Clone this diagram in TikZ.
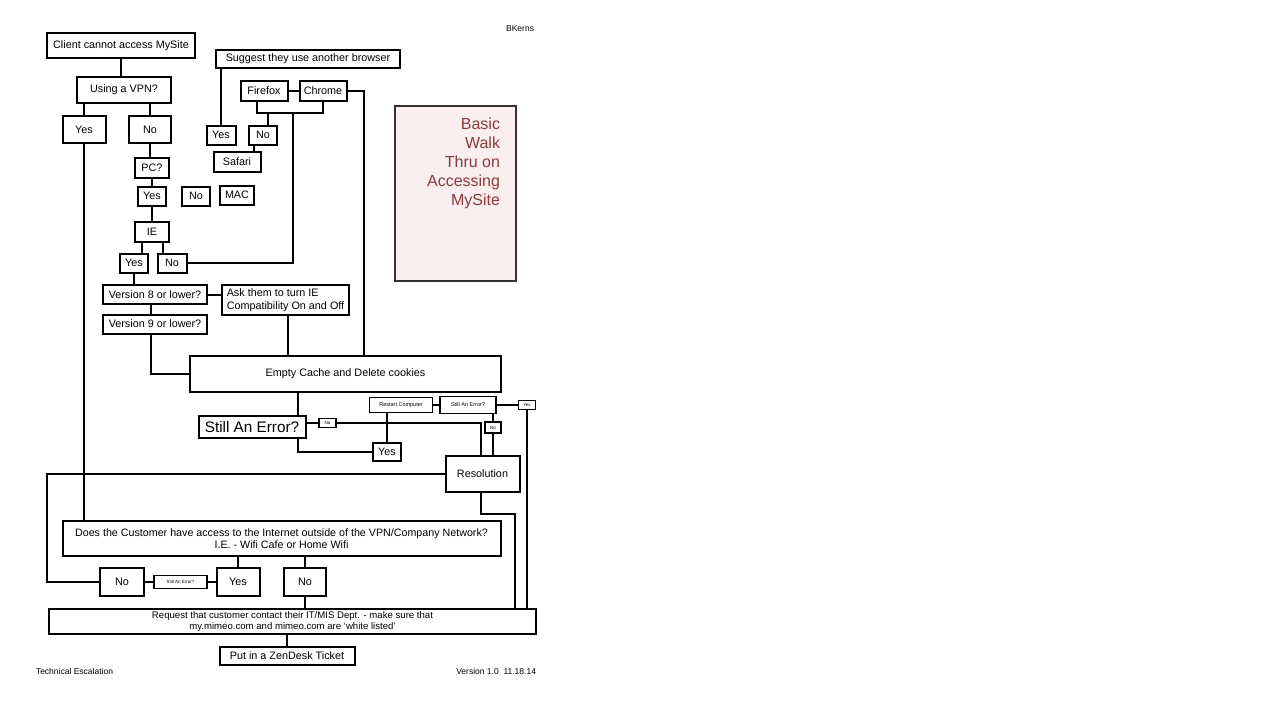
\documentclass[tikz,border=0pt]{standalone}
\usepackage{fontspec}
\setmainfont{Liberation Sans}
\usepackage{xcolor}
\usepackage{tikz}
\usetikzlibrary{shapes,positioning}

\definecolor{titlered}{HTML}{8B3A3A}
\definecolor{titlefill}{HTML}{FBEEEE}

\begin{document}
\begin{tikzpicture}[x=1pt, y=-1pt, line width=2pt,
  box/.style={draw, rectangle, inner sep=0pt, font=\fontsize{10.8}{12.5}\selectfont},
  smallbox/.style={draw, rectangle, inner sep=0pt, line width=1.5pt, font=\fontsize{5.5}{6.5}\selectfont},
  note/.style={inner sep=0pt, font=\fontsize{8.5}{10}\selectfont}]
  \useasboundingbox (0,0) rectangle (1280,720);

  % main question column
  \node[box, minimum width=148pt, minimum height=25pt] (client) at (121,45.5) {Client cannot access MySite};
  \node[box, minimum width=94pt, minimum height=26pt] (vpn) at (124,90) {Using a VPN?};
  \node[box, minimum width=43pt, minimum height=27pt] (vpnyes) at (84,129.5) {Yes};
  \node[box, minimum width=42pt, minimum height=27pt] (vpnno) at (150,129.5) {No};
  \node[box, minimum width=34pt, minimum height=20pt] (pc) at (152,168) {PC?};
  \node[box, minimum width=28pt, minimum height=19pt] (pcyes) at (152,196) {Yes};
  \node[box, minimum width=28pt, minimum height=19pt] (pcno) at (196,196) {No};
  \node[box, minimum width=34pt, minimum height=19pt] (mac) at (237,195) {MAC};
  \node[box, minimum width=34pt, minimum height=20pt] (ie) at (152,232) {IE};
  \node[box, minimum width=28pt, minimum height=19pt] (ieyes) at (134,263) {Yes};
  \node[box, minimum width=29pt, minimum height=19pt] (ieno) at (172,263) {No};

  % other browsers
  \node[box, minimum width=184pt, minimum height=18pt] (suggest) at (308,59) {Suggest they use another browser};
  \node[box, minimum width=29pt, minimum height=19pt] (suggyes) at (221,135) {Yes};
  \node[box, minimum width=47pt, minimum height=20pt] (firefox) at (264,91) {Firefox};
  \node[box, minimum width=47pt, minimum height=20pt] (chrome) at (323,91) {Chrome};
  \node[box, minimum width=28pt, minimum height=19pt] (brno) at (263,135) {No};
  \node[box, minimum width=47pt, minimum height=20pt] (safari) at (237,162) {Safari};

  % title
  \node[draw=black!80, fill=titlefill, rectangle, minimum width=121pt, minimum height=175pt] (title) at (455.5,193.5) {};
  \node[inner sep=0pt, anchor=north east, align=right, text=titlered,
        font=\fontsize{16}{19}\selectfont] (titletext) at ([xshift=-16pt, yshift=-12pt]title.north east)
        {Basic\\Walk\\Thru on\\Accessing\\MySite};

  % IE versions
  \node[box, minimum width=104pt, minimum height=19pt] (v8) at (155,294.5) {Version 8 or lower?};
  \node[box, minimum width=127pt, minimum height=30pt, align=left] (ask) at (285.5,300)
       {Ask them to turn IE\\Compatibility On and Off};
  \node[box, minimum width=104pt, minimum height=19pt] (v9) at (155,324) {Version 9 or lower?};
  \node[box, minimum width=311pt, minimum height=36pt] (empty) at (345.5,374) {Empty Cache and Delete cookies};

  % error checks
  \node[box, minimum width=107pt, minimum height=22pt, font=\fontsize{15.3}{17}\selectfont] (stillerr) at (252,427) {Still An Error?};
  \node[smallbox, minimum width=17pt, minimum height=9pt, font=\fontsize{4.5}{5}\selectfont] (no1) at (327.5,423) {No};
  \node[smallbox, minimum width=63pt, minimum height=15pt] (restart) at (401,405) {Restart Computer};
  \node[smallbox, minimum width=56pt, minimum height=17pt] (still2) at (468,405) {Still An Error?};
  \node[smallbox, minimum width=17pt, minimum height=9pt, font=\fontsize{4.5}{5}\selectfont] (yes3) at (527,405) {Yes};
  \node[smallbox, minimum width=16pt, minimum height=11pt, font=\fontsize{4.5}{5}\selectfont] (no2) at (493,427.5) {No};
  \node[box, minimum width=28pt, minimum height=18pt] (yes2) at (387,452) {Yes};
  \node[box, minimum width=74pt, minimum height=36pt] (resolution) at (482.5,474) {Resolution};

  % outside network
  \node[box, minimum width=438pt, minimum height=35pt, align=center, font=\fontsize{10.7}{12.5}\selectfont] (cust) at (281.5,538.5)
       {Does the Customer have access to the Internet outside of the VPN/Company Network?\\I.E. - Wifi Cafe or Home Wifi};
  \node[box, minimum width=44pt, minimum height=28pt] (custno) at (122,582) {No};
  \node[smallbox, minimum width=53pt, minimum height=13pt, font=\fontsize{4.5}{5}\selectfont] (sae3) at (180.5,582) {Still An Error?};
  \node[box, minimum width=43pt, minimum height=28pt] (custyes) at (238,582) {Yes};
  \node[box, minimum width=42pt, minimum height=28pt] (custno2) at (305,582) {No};
  \node[box, minimum width=487pt, minimum height=25pt, align=center, font=\fontsize{9.6}{11}\selectfont] (request) at (292.5,621.5)
       {Request that customer contact their IT/MIS Dept. - make sure that\\my.mimeo.com and mimeo.com are `white listed'};
  \node[box, minimum width=135pt, minimum height=18pt] (zendesk) at (287,655.5) {Put in a ZenDesk Ticket};

  \node[note, anchor=east] (author) at (535,29) {BKerns};
  \node[note, anchor=west] (dept) at (35,671) {Technical Escalation};
  \node[note, anchor=east] (version) at (537,671) {Version 1.0\ \ 11.18.14};

  \coordinate (brk) at (293,113);
  \coordinate (lft) at (47,520);
  \coordinate (rr) at (515,514);

  \draw (client.south) -- (client.south |- vpn.north);
  \draw (vpnyes.north) -- (vpnyes.north |- vpn.south);
  \draw (vpnno.north) -- (vpnno.north |- vpn.south);
  \draw (vpnno.south) -- (vpnno.south |- pc.north);
  \draw (pc) -- (pcyes);
  \draw (pcyes) -- (ie);
  \draw ([xshift=-10pt]ie.south) -- ([xshift=-10pt]ie.south |- ieyes.north);
  \draw ([xshift=11pt]ie.south) -- ([xshift=11pt]ie.south |- ieno.north);
  \draw (ieno.east) -| (brk);
  \draw ([xshift=-7pt]firefox.south) |- (brk) -| (chrome.south);
  \draw ([xshift=5pt]brno.north) -- ([xshift=5pt]brno.north |- brk);
  \draw ([xshift=-9pt]brno.south) -- ([xshift=-9pt]brno.south |- safari.north);
  \draw (firefox) -- (chrome);
  \draw (suggyes.north) -- (suggyes.north |- suggest.south);
  \draw (chrome.east) -- ++(16,0) coordinate (c1) -- (c1 |- empty.north);

  \draw (ieyes.south) -- (ieyes.south |- v8.north);
  \draw (v8.east) -- (v8.east -| ask.west);
  \draw ([xshift=-4pt]v8.south) -- ([xshift=-4pt]v9.north);
  \draw ([xshift=-4pt]v9.south) |- (empty.west);
  \draw ([xshift=2pt]ask.south) -- ([xshift=2pt]ask.south |- empty.north);

  \draw ([xshift=46pt]stillerr.north) -- ([xshift=46pt]stillerr.north |- empty.south);
  \draw ([xshift=46pt]stillerr.south) |- (yes2.west);
  \draw (no1.west -| stillerr.east) -- (no1.west);
  \draw (no1.east) -| ([xshift=-2pt]resolution.north);
  \draw (yes2.north) -- (yes2.north |- restart.south);
  \draw (restart) -- (still2);
  \draw (still2) -- (yes3);
  \draw (no2.north) -- (no2.north |- still2.south);
  \draw (no2.south) -- (no2.south |- resolution.north);
  \draw (yes3.south) -- (yes3.south |- request.north);

  \draw (resolution.west) -| (lft) |- (custno.west);
  \draw (vpnyes.south) -- (vpnyes.south |- cust.north);
  \draw (custyes.north) -- (custyes.north |- cust.south);
  \draw (custno2.north) -- (custno2.north |- cust.south);
  \draw (custno) -- (sae3) -- (custyes);
  \draw (custno2.south) -- (custno2.south |- request.north);
  \draw ([xshift=-2pt]resolution.south) |- (rr) -- (rr |- request.north);
  \draw (zendesk.north) -- (zendesk.north |- request.south);
\end{tikzpicture}
\end{document}
